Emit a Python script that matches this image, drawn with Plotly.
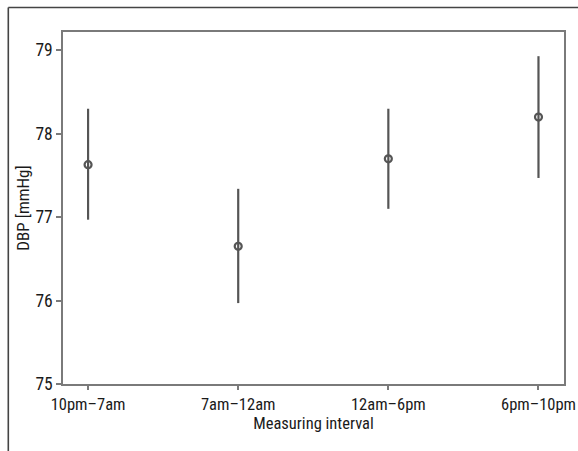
import plotly.graph_objects as go

categories = ["10pm\u20137am", "7am\u201312am", "12am\u20136pm", "6pm\u201310pm"]
means = [77.63, 76.65, 77.70, 78.20]
upper = [78.30, 77.34, 78.30, 78.93]
lower = [76.97, 75.97, 77.10, 77.47]

err_plus = [u - m for u, m in zip(upper, means)]
err_minus = [m - l for m, l in zip(means, lower)]

W, H = 578, 451
ML, MR, MT, MB = 63, 14, 32, 67
FONT = "Roboto Condensed, Liberation Sans Narrow, DejaVu Sans Condensed, sans-serif"
col = "#555555"
axcol = "#7a7a7a"

fig = go.Figure()
fig.add_trace(go.Scatter(
    x=categories, y=means, mode="markers",
    marker=dict(symbol="circle-open", size=7, color=col, line=dict(width=2.2, color=col)),
    error_y=dict(type="data", symmetric=False, array=err_plus, arrayminus=err_minus,
                 width=0, thickness=2.2, color=col),
    showlegend=False,
))

pw = W - ML - MR
ph = H - MT - MB
def px(x):
    return (x - ML) / pw
def py(y):
    return (H - MB - y) / ph

fig.update_layout(
    width=W, height=H,
    margin=dict(l=ML, r=MR, t=MT, b=MB, autoexpand=False),
    paper_bgcolor="white", plot_bgcolor="white",
    font=dict(family=FONT, size=17, color="#1a1a1a"),
    xaxis=dict(
        type="category", categoryorder="array", categoryarray=categories,
        range=[-0.167, 3.17], showgrid=False, zeroline=False,
        showline=True, linecolor=axcol, linewidth=1.5, mirror=True,
        ticks="outside", ticklen=4, tickcolor=axcol, tickwidth=1.5,
        tickfont=dict(size=16.5), ticklabeloverflow="allow", automargin=False,
        title=dict(text="Measuring interval", font=dict(size=16.5), standoff=0),
    ),
    yaxis=dict(
        range=[75, 79.22], tickvals=[75, 76, 77, 78, 79], showgrid=False, zeroline=False,
        showline=True, linecolor=axcol, linewidth=1.5, mirror=True,
        ticks="outside", ticklen=5, tickcolor=axcol, tickwidth=1.5,
        tickfont=dict(size=17.5), automargin=False,
        title=dict(text="DBP [mmHg]", font=dict(size=17), standoff=2),
    ),
    shapes=[
        dict(type="line", xref="paper", yref="paper", x0=px(8.3), x1=px(8.3), y0=py(7.5), y1=py(H),
             line=dict(color="#444444", width=1.6)),
        dict(type="line", xref="paper", yref="paper", x0=px(8.3), x1=px(W), y0=py(7.5), y1=py(7.5),
             line=dict(color="#444444", width=1.6)),
    ],
)

fig.write_html(
    "out.html",
    config={"displayModeBar": False},
    post_script="document.body.style.margin='0';document.body.style.overflow='hidden';",
)
